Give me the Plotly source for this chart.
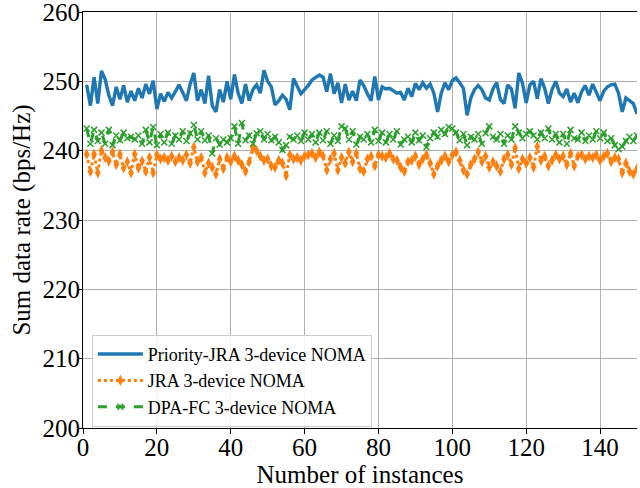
import plotly.graph_objects as go

instances = list(range(1, 151))

priority_jra = [
    249.5, 246.5, 250.6, 246.8, 251.5, 250.3, 248.0, 246.5, 249.2, 247.4,
    249.4, 247.0, 248.6, 247.2, 249.0, 247.6, 249.6, 248.2, 250.1, 246.0,
    248.2, 247.1, 248.4, 247.6, 248.5, 249.5, 248.4, 247.2, 249.6, 251.2,
    247.2, 248.8, 246.8, 250.8, 246.5, 245.6, 248.8, 247.0, 250.0, 247.4,
    251.0, 248.3, 246.8, 249.6, 247.2, 248.8, 249.5, 248.3, 251.6, 250.0,
    249.2, 246.6, 247.2, 248.0, 247.4, 245.9, 250.4, 249.3, 248.2, 248.8,
    249.4, 250.2, 250.6, 250.9, 250.6, 248.5, 251.1, 248.2, 249.8, 246.9,
    249.6, 247.3, 248.6, 247.2, 250.2, 249.4, 248.2, 247.2, 250.7, 247.3,
    249.2, 248.9, 249.0, 248.7, 248.3, 248.4, 247.3, 249.0, 247.8, 249.7,
    248.8, 249.8, 249.0, 249.6, 248.3, 245.6, 248.3, 249.8, 248.8, 250.1,
    250.5, 249.8, 249.0, 245.1, 247.6, 248.8, 249.4, 248.8, 247.6, 247.3,
    248.9, 249.8, 247.4, 246.8, 249.5, 248.9, 246.1, 251.2, 249.7, 246.9,
    249.5, 250.0, 247.5, 250.4, 249.0, 246.8, 248.8, 250.0, 248.3, 247.8,
    248.9, 247.0, 248.3, 246.9, 248.5, 249.4, 248.0, 249.6, 248.4, 247.2,
    248.6, 249.2, 249.5, 249.6, 248.3, 245.6, 247.6, 247.2, 246.8, 245.3,
]

jra = [
    239.5, 237.0, 239.5, 236.8, 240.0, 239.0, 238.5, 239.8, 238.0, 239.5,
    237.5, 238.4, 236.8, 239.5, 237.5, 238.5, 237.0, 239.0, 236.8, 239.4,
    238.8, 239.0, 238.6, 239.2, 238.4, 239.0, 238.6, 239.4, 238.2, 240.5,
    238.4, 239.0, 236.8, 238.2, 237.6, 236.6, 238.8, 237.4, 239.0, 238.4,
    239.2, 238.6, 238.0, 237.0, 238.4, 240.4, 240.0, 239.2, 238.6, 238.8,
    237.8, 237.6, 238.6, 238.2, 236.4, 239.4, 238.8, 239.0, 238.6, 239.2,
    239.4, 239.6, 239.0, 239.8, 239.2, 237.2, 238.8, 239.6, 237.2, 239.0,
    238.2, 239.8, 238.4, 239.6, 237.4, 237.0, 238.8, 239.2, 237.8, 239.4,
    239.2, 239.0, 239.6, 238.8, 238.6, 237.6, 237.0, 238.4, 238.6, 239.2,
    238.0, 238.8, 239.4, 238.2, 236.6, 237.8, 238.6, 239.2, 238.4, 239.4,
    239.8, 238.6, 237.2, 236.6, 238.0, 238.8, 239.8, 238.4, 239.2, 237.6,
    238.4, 237.8, 237.0, 238.8, 239.4, 238.0, 240.4, 237.4, 238.8, 238.2,
    239.0, 237.6, 240.6, 238.6, 239.2, 237.8, 238.6, 239.4, 238.8, 239.2,
    238.0, 239.6, 237.8, 239.2, 239.4, 238.8, 239.2, 239.0, 239.4, 238.6,
    239.2, 239.6, 238.4, 239.0, 238.8, 236.8, 238.2, 237.0, 236.6, 237.4,
]

dpa_fc = [
    243.2, 241.0, 243.0, 241.4, 242.6, 241.0, 243.0, 240.8, 242.2, 241.5,
    242.6, 241.8, 242.0, 241.6, 242.2, 241.0, 243.0, 241.2, 243.4, 240.8,
    242.4, 241.2, 242.6, 241.0, 242.2, 241.6, 242.8, 241.4, 242.5, 243.7,
    241.6, 242.8, 241.5, 242.2, 239.6, 241.8, 240.9, 241.6, 241.2, 241.8,
    243.5, 241.0, 244.0, 241.5, 242.2, 241.0, 242.5, 242.8, 241.6, 242.4,
    241.5, 242.0, 241.2, 240.1, 240.8, 242.0, 241.6, 242.2, 241.4, 242.6,
    241.6, 242.4, 241.2, 242.6, 241.5, 242.8, 241.0, 242.2, 241.4, 243.5,
    243.2, 241.6, 242.8, 240.9, 242.0, 241.6, 242.4, 241.2, 243.0, 241.4,
    242.6, 241.2, 242.4, 241.6, 242.8, 240.9, 241.6, 242.0, 241.2, 242.6,
    241.5, 242.2, 240.5, 241.8, 242.6, 242.0, 243.0, 242.4, 243.4, 243.2,
    242.6, 241.5, 242.4, 240.8, 242.0, 241.6, 242.4, 241.0, 242.5, 243.5,
    242.0, 241.6, 242.4, 241.0, 242.2, 241.6, 243.5, 242.6, 241.8, 242.4,
    242.8, 242.2, 241.6, 242.6, 241.8, 243.2, 241.6, 242.4, 241.2, 242.4,
    241.0, 243.0, 241.8, 241.6, 242.6, 241.4, 242.2, 241.6, 242.8, 241.8,
    242.6, 241.4, 241.8, 240.8, 240.2, 240.6, 241.4, 242.0, 241.4, 242.2,
]

series_names = ["Priority-JRA 3-device NOMA", "JRA 3-device NOMA", "DPA-FC 3-device NOMA"]
y_ticks = [200, 210, 220, 230, 240, 250, 260]
x_ticks = [0, 20, 40, 60, 80, 100, 120, 140]

FONT = "Liberation Serif, Times New Roman, serif"

fig = go.Figure()
fig.add_trace(go.Scatter(
    x=instances, y=priority_jra, name=series_names[0], mode="lines",
    line=dict(color="#1f77b4", width=3.4),
))
fig.add_trace(go.Scatter(
    x=instances, y=jra, name=series_names[1], mode="lines+markers",
    line=dict(color="#ff7f0e", width=3, dash="dot"),
    marker=dict(symbol="diamond-tall", size=8, color="#ff7f0e"),
))
fig.add_trace(go.Scatter(
    x=instances, y=dpa_fc, name=series_names[2], mode="lines+markers",
    line=dict(color="#2ca02c", width=3, dash="dash"),
    marker=dict(symbol="x-thin", size=6, color="#2ca02c",
                line=dict(width=1.5, color="#2ca02c")),
))

fig.update_layout(
    width=640, height=488,
    margin=dict(l=83, r=3, t=12, b=60, autoexpand=False),
    paper_bgcolor="white", plot_bgcolor="white",
    font=dict(family=FONT, size=25, color="black"),
    legend=dict(
        x=0.016, y=0.224, xanchor="left", yanchor="top",
        font=dict(family=FONT, size=18, color="black"),
        bgcolor="rgba(255,255,255,0.85)", bordercolor="#cccccc", borderwidth=1,
        tracegroupgap=0, itemwidth=45,
    ),
    showlegend=True,
)
fig.update_xaxes(
    range=[0, 150], tickvals=x_ticks, ticks="outside", ticklen=5, tickcolor="black",
    showline=True, linecolor="black", linewidth=1, mirror=True,
    showgrid=True, gridcolor="#b0b0b0", gridwidth=1, zeroline=False,
    automargin=False, ticklabelstandoff=-8, ticklabeloverflow="allow",
    title=dict(text="Number of instances", standoff=0, font=dict(size=25)),
    tickfont=dict(size=25),
)
fig.update_yaxes(
    range=[200, 260], tickvals=y_ticks, ticks="outside", ticklen=5, tickcolor="black",
    showline=True, linecolor="black", linewidth=1, mirror=False,
    showgrid=True, gridcolor="#b0b0b0", gridwidth=1, zeroline=False,
    automargin=False, ticklabelstandoff=-8, ticklabeloverflow="allow",
    title=dict(text="Sum data rate (bps/Hz)", standoff=4, font=dict(size=25)),
    tickfont=dict(size=25),
)

# Remove the browser's default 8px body margin so the figure fills the window.
fig.write_html("out.html", config={"displayModeBar": False},
               post_script="document.body.style.margin='0';")
